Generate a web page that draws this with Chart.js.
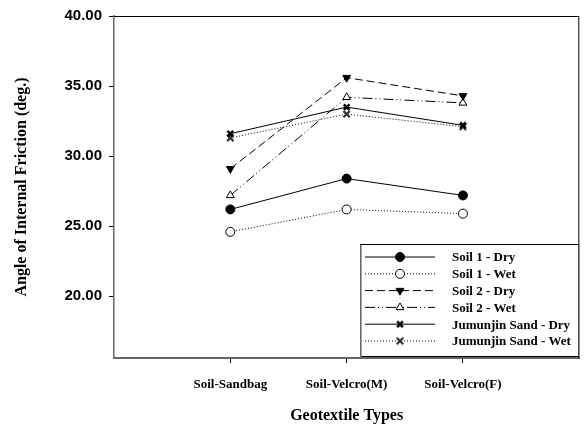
<!DOCTYPE html>
<html>
<head>
<meta charset="utf-8">
<script src="https://cdn.jsdelivr.net/npm/chart.js@4"></script>
<style>
  html, body { margin: 0; padding: 0; background: #fff; }
  #wrap { width: 586px; height: 427px; }
</style>
</head>
<body>
<div id="wrap"><canvas id="frictionChart" width="586" height="427"></canvas></div>
<script>
// --- Data ---
const categories = ["Soil-Sandbag", "Soil-Velcro(M)", "Soil-Velcro(F)"];
const yTicks = [20, 25, 30, 35, 40];

const soil1Dry = [26.2, 28.4, 27.2];
const soil1Wet = [24.6, 26.2, 25.9];
const soil2Dry = [29.1, 35.6, 34.3];
const soil2Wet = [27.2, 34.2, 33.8];
const jumunjinDry = [31.6, 33.5, 32.2];
const jumunjinWet = [31.3, 33.0, 32.1];

const serif = "'Liberation Serif', 'Times New Roman', serif";
const sans = "'Liberation Sans', Arial, sans-serif";

function toPoints(values) {
  return values.map((v, i) => ({ x: i + 1, y: v }));
}

function series(label, values, style) {
  return Object.assign({
    label: label,
    data: toPoints(values),
    borderColor: "#000",
    borderWidth: 1,
    pointBorderColor: "#000",
    pointBorderWidth: 1,
    pointRadius: 4.5,
    tension: 0,
    fill: false,
  }, style);
}

const datasets = [
  series("Soil 1 - Dry", soil1Dry, { pointStyle: "circle", pointBackgroundColor: "#000" }),
  series("Soil 1 - Wet", soil1Wet, { pointStyle: "circle", pointBackgroundColor: "#fff", borderDash: [1, 2] }),
  series("Soil 2 - Dry", soil2Dry, { pointStyle: "triangle", pointRotation: 180, pointBackgroundColor: "#000", borderDash: [8, 4] }),
  series("Soil 2 - Wet", soil2Wet, { pointStyle: "triangle", pointBackgroundColor: "#fff", borderDash: [10, 3, 1, 3, 1, 3] }),
  series("Jumunjin Sand - Dry", jumunjinDry, { pointStyle: "crossRot", pointBorderWidth: 2.5, pointRadius: 4 }),
  series("Jumunjin Sand - Wet", jumunjinWet, { pointStyle: "crossRot", pointBorderColor: "#333", pointBorderWidth: 2.2, pointRadius: 4.5, borderDash: [1, 2] }),
];

// --- Frame: black top/right edges, gray axes on left/bottom ---
const framePlugin = {
  id: "frame",
  beforeDatasetsDraw(chart) {
    const { ctx, chartArea: a } = chart;
    ctx.save();
    ctx.strokeStyle = "#000";
    ctx.lineWidth = 1;
    ctx.beginPath();
    ctx.moveTo(a.left, a.top + 0.5);
    ctx.lineTo(a.right - 0.5, a.top + 0.5);
    ctx.lineTo(a.right - 0.5, a.bottom);
    ctx.stroke();
    ctx.restore();
  },
};

// --- Legend box in the lower right corner, drawn from dataset styles ---
const legendPlugin = {
  id: "boxLegend",
  afterDraw(chart) {
    const { ctx, chartArea: a } = chart;
    const left = 360, right = a.right, top = 244, bottom = a.bottom - 1;
    ctx.save();
    ctx.fillStyle = "#fff";
    ctx.fillRect(left, top, right - left, bottom - top);
    ctx.strokeStyle = "#000";
    ctx.lineWidth = 1;
    ctx.strokeRect(left + 0.5, top + 0.5, right - left - 1, bottom - top - 1);
    ctx.strokeStyle = "#888";
    ctx.lineWidth = 1.5;
    ctx.beginPath();
    ctx.moveTo(left + 1, bottom);
    ctx.lineTo(left + 1, top + 1);
    ctx.stroke();

    chart.data.datasets.forEach((ds, i) => {
      const y = 257 + i * 16.8;
      ctx.strokeStyle = ds.borderColor;
      ctx.lineWidth = ds.borderWidth;
      ctx.setLineDash(ds.borderDash || []);
      ctx.beginPath();
      ctx.moveTo(365, y);
      ctx.lineTo(435, y);
      ctx.stroke();
      ctx.setLineDash([]);
      ctx.strokeStyle = ds.pointBorderColor;
      ctx.fillStyle = ds.pointBackgroundColor || "#000";
      ctx.lineWidth = ds.pointBorderWidth;
      Chart.helpers.drawPoint(ctx, {
        pointStyle: ds.pointStyle,
        rotation: ds.pointRotation || 0,
        radius: ds.pointRadius,
        borderWidth: ds.pointBorderWidth,
      }, 400, y);
      ctx.fillStyle = "#000";
      ctx.font = "bold 13px " + serif;
      ctx.textBaseline = "middle";
      ctx.textAlign = "left";
      ctx.fillText(ds.label, 452, y + 1);
    });
    ctx.restore();
  },
};

new Chart(document.getElementById("frictionChart"), {
  type: "line",
  data: { datasets: datasets },
  plugins: [framePlugin, legendPlugin],
  options: {
    responsive: false,
    animation: false,
    layout: { padding: { top: 16, right: 2, left: 0, bottom: 0 } },
    plugins: { legend: { display: false }, tooltip: { enabled: false } },
    scales: {
      x: {
        type: "linear",
        min: 0,
        max: 4,
        afterBuildTicks: (scale) => {
          scale.ticks = categories.map((c, i) => ({ value: i + 1 }));
        },
        afterFit: (scale) => { scale.height = 69; },
        ticks: {
          callback: (v) => categories[v - 1],
          color: "#000",
          font: { family: serif, size: 13, weight: "bold" },
          padding: 14,
          maxRotation: 0,
        },
        grid: { drawOnChartArea: false, drawTicks: true, tickLength: 5, color: "#000" },
        border: { display: true, color: "#666", width: 2 },
        title: {
          display: true,
          text: "Geotextile Types",
          color: "#000",
          font: { family: serif, size: 16, weight: "bold" },
          padding: { top: 0, bottom: 2 },
        },
      },
      y: {
        min: 15.6,
        max: 40,
        afterBuildTicks: (scale) => {
          scale.ticks = yTicks.map((v) => ({ value: v }));
        },
        afterFit: (scale) => { scale.width = 114; },
        ticks: {
          callback: (v) => v.toFixed(2),
          color: "#000",
          font: { family: sans, size: 15, weight: "bold" },
          padding: 7,
        },
        grid: { drawOnChartArea: false, drawTicks: true, tickLength: 5, color: "#000" },
        border: { display: true, color: "#666", width: 1.5 },
        title: {
          display: true,
          text: "Angle of Internal Friction (deg.)",
          color: "#000",
          font: { family: serif, size: 16, weight: "bold" },
          padding: { top: 12, bottom: 0 },
        },
      },
    },
  },
});
</script>
</body>
</html>
